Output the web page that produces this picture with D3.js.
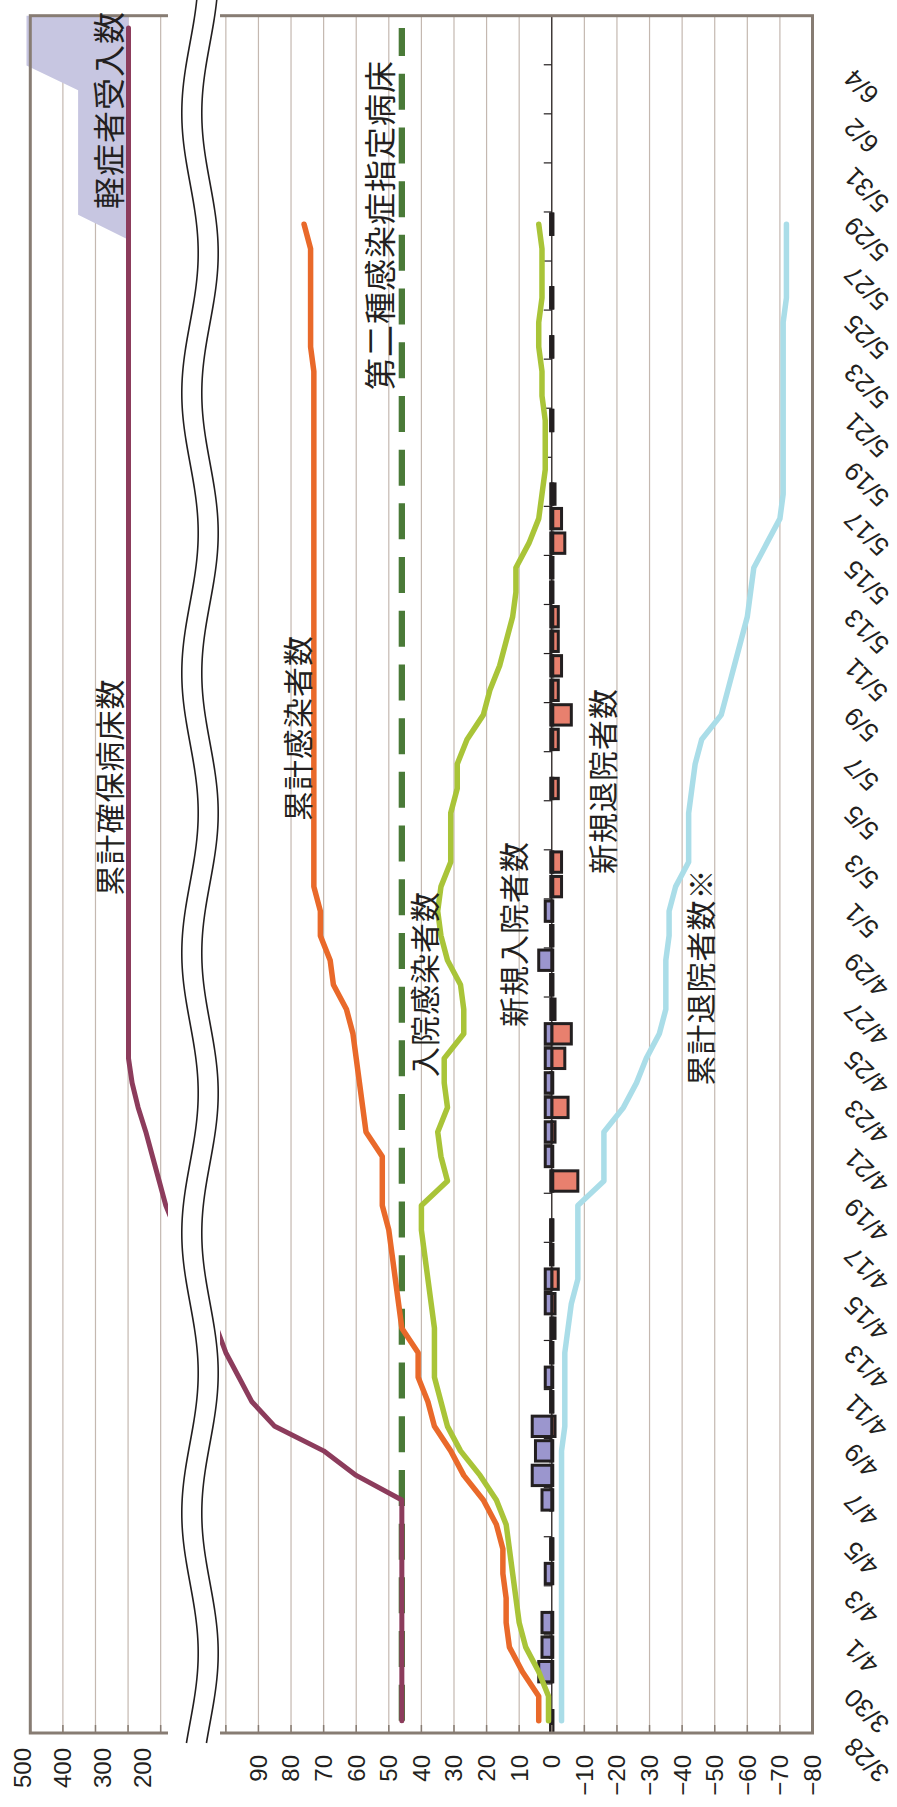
<!DOCTYPE html>
<html>
<head>
<meta charset="utf-8">
<script src="https://cdn.jsdelivr.net/npm/d3@7"></script>
<style>
body { margin: 0; background: #fff; }
svg { display: block; }
text { font-family: "Liberation Sans", Arial, sans-serif; fill: #231f20; }
.jp { font-family: "Noto Sans CJK JP", sans-serif; }
</style>
</head>
<body>
<svg id="chart" width="897" height="1807"></svg>
<script>
// categories: one per day, 3/28 - 6/5
const cats = [
  "3/28","3/29","3/30","3/31",
  "4/1","4/2","4/3","4/4","4/5","4/6","4/7","4/8","4/9","4/10",
  "4/11","4/12","4/13","4/14","4/15","4/16","4/17","4/18","4/19","4/20",
  "4/21","4/22","4/23","4/24","4/25","4/26","4/27","4/28","4/29","4/30",
  "5/1","5/2","5/3","5/4","5/5","5/6","5/7","5/8","5/9","5/10",
  "5/11","5/12","5/13","5/14","5/15","5/16","5/17","5/18","5/19","5/20",
  "5/21","5/22","5/23","5/24","5/25","5/26","5/27","5/28","5/29","5/30","5/31",
  "6/1","6/2","6/3","6/4","6/5"
];

// 累計感染者数
const cumInfected = [4,4,9,13,14,14,15,15,17,21,27,31,36,38,41,41,46,47,48,49,
  50,52,52,52,57,58,59,60,61,63,67,68,71,71,73,73,73,73,73,73,
  73,73,73,73,73,73,73,73,73,73,73,73,73,73,73,73,74,74,74,74,74,76];

// 入院感染者数
const inHospital = [1,1,4,8,10,11,12,13,14,17,22,28,32,34,36,36,36,37,38,39,
  40,40,32,34,35,32,33,33,27,27,28,32,34,35,34,31,31,31,29,29,
  26,21,19,16,14,12,11,11,7,4,3,2,2,2,3,3,4,4,3,3,3,4];

// 累計退院者数※ (plotted negative)
const cumDischarged = [-3,-3,-3,-3,-3,-3,-3,-3,-3,-3,-3,-3,-4,-4,-4,-4,-5,-6,-8,-8,
  -8,-8,-16,-16,-16,-22,-26,-29,-33,-35,-35,-35,-36,-36,-38,-42,-42,-42,-43,-44,
  -46,-52,-54,-56,-58,-60,-61,-62,-66,-70,-71,-71,-71,-71,-71,-71,-71,-71,-72,-72,-72,-72];

// 新規入院者数
const newAdmitted = [0,null,4,3,3,null,2,0,null,3,6,5,6,0,2,0,0,2,2,0,
  0,null,0,2,2,2,2,2,2,0,0,4,0,2,0,0,null,null,0,null,
  0,0,0,0,0,0,0,0,0,0,0,null,null,0,null,null,0,null,0,null,null,0];

// 新規退院者数 (plotted negative)
const newDischarged = [0,null,0,0,0,null,0,0,null,0,0,0,-1,0,0,0,-1,-1,-2,0,
  0,null,-8,0,-1,-5,0,-4,-6,-1,0,0,0,0,-3,-3,null,null,-2,null,
  -2,-6,-2,-3,-2,-2,0,0,-4,-3,-1,null,null,0,null,null,0,null,0,null,null,0];

// 累計確保病床数
const securedBeds = [46,46,46,46,46,46,46,46,46,46,60,70,85,92,96,100,111,123,135,148,
  160,172,180,188,196,211,226,235,235,235,235,235,235,235,235,235,235,235,235,235,
  235,235,235,235,235,235,235,235,235,235,235,235,235,235,235,235,235,235,235,235,
  235,235,235,235,235,235,235,235,235,235];

// 軽症者受入数 (stacked on 累計確保病床数)
const mildAccepted = [0,0,0,0,0,0,0,0,0,0,0,0,0,0,0,0,0,0,0,0,
  0,0,0,0,0,0,0,0,0,0,0,0,0,0,0,0,0,0,0,0,
  0,0,0,0,0,0,0,0,0,0,0,0,0,0,0,0,0,0,0,0,
  0,126,126,126,126,126,126,255,255,255];

// 第二種感染症指定病床
const designatedBeds = 46;

const mainTicks = [90,80,70,60,50,40,30,20,10,0,-10,-20,-30,-40,-50,-60,-70,-80];
const upperTicks = [500,400,300,200];

const annotations = [
  {text: "軽症者受入数", x: 107, y: 110, size: 32},
  {text: "第二種感染症指定病床", x: 378, y: 225, size: 32},
  {text: "累計確保病床数", x: 108, y: 787, size: 30},
  {text: "累計感染者数", x: 296, y: 728, size: 30},
  {text: "入院感染者数", x: 423, y: 984, size: 30},
  {text: "新規入院者数", x: 512, y: 934, size: 30},
  {text: "新規退院者数", x: 601, y: 781, size: 30},
  {text: "累計退院者数※", x: 699, y: 977, size: 30}
];

const svg = d3.select("#chart");
const plotTop = 15.7, plotBottom = 1733;
const xLeft = 30.3, xRight = 812.5;
const breakL = 168, breakR = 220;

// one continuous axis in pixel space, upper part re-labelled by hand in the original
const xp = d3.scaleLinear().domain([-80, 160]).range([xRight, xLeft]);
const xv = d3.scaleLinear().domain([-80, 100, 200, 500]).range([xRight, xp(100), 142.5, 22.5]);
const x0 = xp(0);

const y = d3.scaleBand().domain(cats).range([plotBottom, plotTop]);
const yc = c => y(c) + y.bandwidth() / 2;
const yBar = d3.scaleBand().domain(cats).range([plotBottom, plotTop])
  .paddingInner(0.17).paddingOuter(0.085);
const yPt = d3.scalePoint().domain(cats).range([plotBottom, plotTop]);

const gridCol = "#c4b8b0", frameCol = "#877c73", ink = "#231f20";

// gridlines
svg.append("g").selectAll("line").data(d3.range(-70, 160, 10)).join("line")
  .attr("x1", d => xp(d)).attr("x2", d => xp(d))
  .attr("y1", plotTop).attr("y2", plotBottom)
  .attr("stroke", gridCol).attr("stroke-width", 1.2);

// 軽症者受入数 area
const areaData = cats.map((c, i) => ({c, base: securedBeds[i], add: mildAccepted[i]}));
svg.append("path").datum(areaData)
  .attr("fill", "#c7c6e1")
  .attr("d", d3.area().y(d => yPt(d.c)).x0(d => xv(d.base)).x1(d => xv(d.base + d.add)));

// category axis at zero
svg.append("line").attr("x1", x0).attr("x2", x0).attr("y1", plotTop).attr("y2", plotBottom)
  .attr("stroke", ink).attr("stroke-width", 1.2);
svg.append("g").selectAll("line").data(d3.range(0, cats.length + 1, 2)).join("line")
  .attr("x1", x0 - 8).attr("x2", x0)
  .attr("y1", k => plotBottom - k * y.step()).attr("y2", k => plotBottom - k * y.step())
  .attr("stroke", ink).attr("stroke-width", 1.2);

// bars
const barData = cats.map((c, i) => ({c, adm: newAdmitted[i], dis: newDischarged[i]}));
const bars = svg.append("g").attr("stroke", ink).attr("stroke-width", 3);
bars.selectAll("rect.dis").data(barData.filter(d => d.dis != null)).join("rect")
  .attr("fill", "#e8806e")
  .attr("x", d => d.dis === 0 ? x0 - 1 : x0)
  .attr("width", d => Math.max(xv(d.dis) - x0, 2))
  .attr("y", d => yBar(d.c)).attr("height", yBar.bandwidth());
bars.selectAll("rect.adm").data(barData.filter(d => d.adm != null)).join("rect")
  .attr("fill", "#9b96ce")
  .attr("x", d => d.adm === 0 ? x0 - 1 : xv(d.adm))
  .attr("width", d => Math.max(x0 - xv(d.adm), 2))
  .attr("y", d => yBar(d.c)).attr("height", yBar.bandwidth());

// lines
const series = (arr) => cats.map((c, i) => ({c, v: arr[i]}));
const line = d3.line().defined(d => d.v != null).x(d => xv(d.v)).y(d => yc(d.c));

svg.append("path").datum(series(cats.map(() => designatedBeds)))
  .attr("fill", "none").attr("stroke", "#4a7a38").attr("stroke-width", 6.3)
  .attr("stroke-dasharray", "36 17.7").attr("d", line);

function drawLine(arr, color, w) {
  svg.append("path").datum(series(arr))
    .attr("fill", "none").attr("stroke", color).attr("stroke-width", w)
    .attr("stroke-linejoin", "round").attr("stroke-linecap", "round")
    .attr("d", line);
}
drawLine(securedBeds, "#8c3c5c", 5);
drawLine(cumInfected, "#e9692a", 5.5);
drawLine(inHospital, "#a9c438", 5.5);
drawLine(cumDischarged, "#aadde8", 5.5);

// frame
svg.append("rect").attr("x", xLeft).attr("y", plotTop)
  .attr("width", xRight - xLeft).attr("height", plotBottom - plotTop)
  .attr("fill", "none").attr("stroke", frameCol).attr("stroke-width", 3);
svg.append("g").selectAll("line").data(d3.range(-80, 161, 10)).join("line")
  .attr("x1", d => xp(d)).attr("x2", d => xp(d))
  .attr("y1", plotBottom - 8).attr("y2", plotBottom)
  .attr("stroke", frameCol).attr("stroke-width", 1.5);

// axis break
svg.append("rect").attr("x", breakL).attr("y", 0)
  .attr("width", breakR - breakL).attr("height", 1748).attr("fill", "#fff");
const wave = (cx) => d3.line()
  .x(t => cx + 8.2 * Math.cos(2 * Math.PI * (t - 253) / 280))
  .y(t => t)(d3.range(0, 1746, 3));
[190, 210].forEach(cx => {
  svg.append("path").attr("d", wave(cx))
    .attr("fill", "none").attr("stroke", ink).attr("stroke-width", 1.6);
});

// value labels
svg.append("g").selectAll("text").data(mainTicks).join("text")
  .attr("transform", d => `translate(${xp(d)},1755) rotate(-90)`)
  .attr("text-anchor", "end").attr("dy", "0.35em")
  .style("font-size", "24px")
  .text(d => d < 0 ? "\u2212" + Math.abs(d) : d);
svg.append("g").selectAll("text").data(upperTicks).join("text")
  .attr("transform", d => `translate(${xv(d)},1748) rotate(-90)`)
  .attr("text-anchor", "end").attr("dy", "0.35em")
  .style("font-size", "24px")
  .text(d => d);

// date labels
svg.append("g").selectAll("text").data(cats.filter((c, i) => i % 2 === 0)).join("text")
  .attr("transform", c => `translate(855,${yc(c) + 15}) rotate(-135)`)
  .attr("text-anchor", "end")
  .style("font-size", "26px")
  .text(c => c);

// series annotations
svg.append("g").selectAll("text").data(annotations).join("text")
  .attr("class", "jp")
  .attr("transform", d => `translate(${d.x},${d.y}) rotate(-90)`)
  .attr("text-anchor", "middle").attr("dominant-baseline", "central")
  .style("font-size", d => d.size + "px")
  .style("letter-spacing", "1px")
  .text(d => d.text);
</script>
</body>
</html>
